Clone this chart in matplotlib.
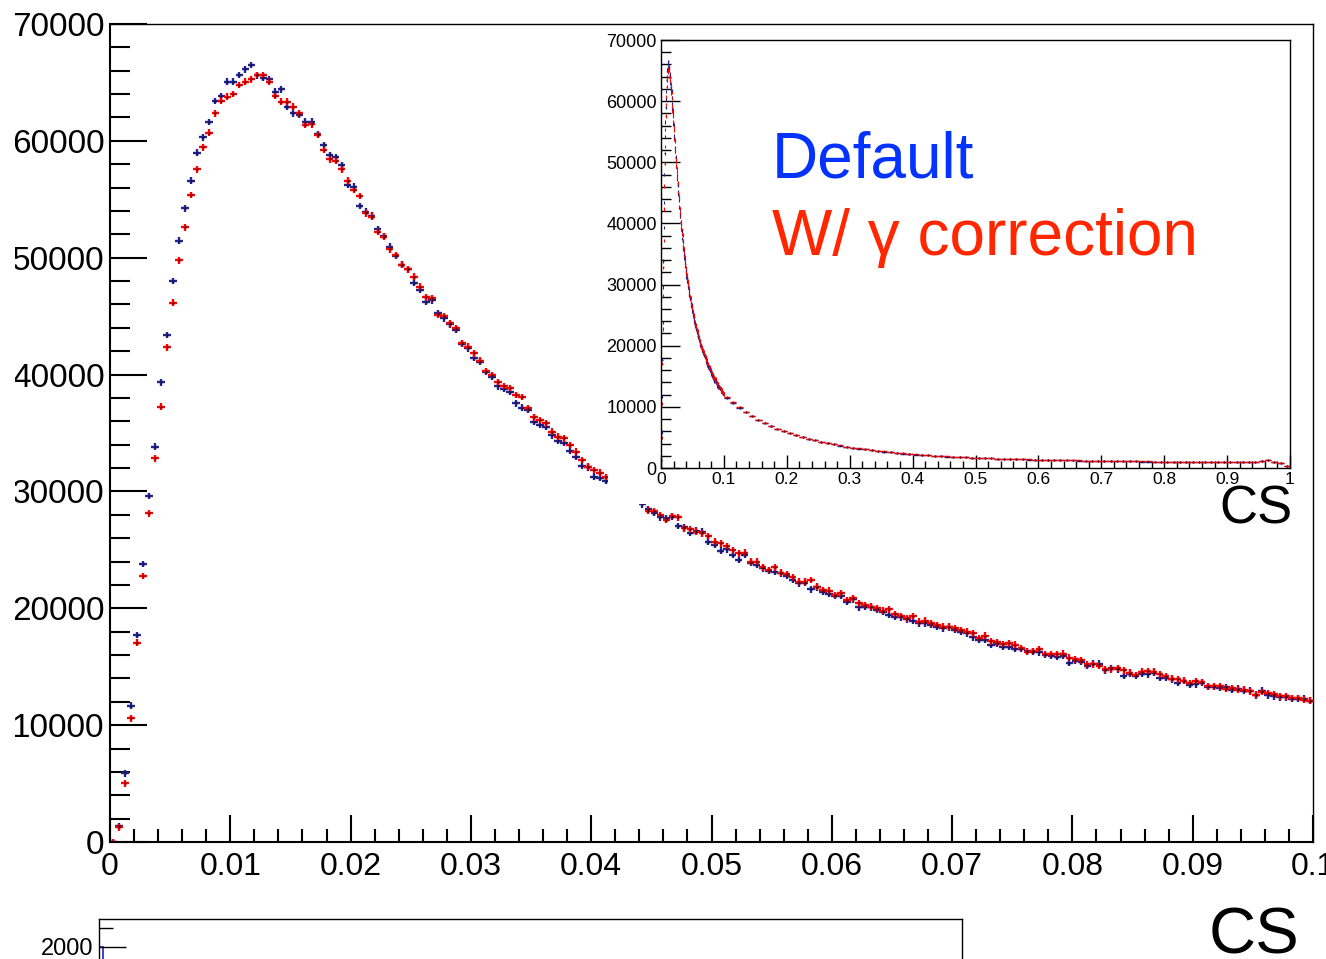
import numpy as np
import matplotlib.pyplot as plt
from matplotlib.patches import Rectangle
from matplotlib.ticker import MultipleLocator, FormatStrFormatter

plt.rcParams['font.family'] = ['Liberation Sans', 'DejaVu Sans']

# CS histogram, 0.0005 wide bins on [0, 0.1]
bin_width = 0.0005
default_counts = [
    0, 1350, 5880, 11660, 17710, 23790, 29610, 33830, 39340, 43390,
    48010, 51460, 54230, 56590, 58990, 60300, 61610, 63410, 63840, 65060,
    65060, 65630, 66120, 66490, 65600, 65400, 65300, 64210, 64410, 62930,
    62360, 62210, 61640, 61640, 60600, 59640, 58790, 58590, 57930, 56220,
    56080, 54420, 53940, 53600, 52430, 51850, 50940, 50150, 49400, 49010,
    47860, 47240, 46240, 46350, 45250, 44820, 44300, 43850, 42600, 42250,
    41420, 41110, 40220, 39820, 39000, 38750, 38550, 37540, 37160, 37000,
    35970, 35700, 35500, 34800, 34300, 34150, 33500, 32950, 32200, 32050,
    31260, 31150, 30900, 30600, 30300, 29950, 29600, 29250, 28900, 28470,
    28180, 27780, 27700, 27840, 27040, 26930, 26470, 26640, 26560, 25700,
    25410, 24930, 25040, 24560, 24130, 24560, 23900, 23700, 23420, 23220,
    23130, 22990, 22760, 22420, 22130, 22190, 21620, 21790, 21420, 21220,
    21050, 21050, 20560, 20760, 20080, 20140, 20080, 19850, 19710, 19420,
    19280, 19220, 19050, 18940, 18710, 18710, 18570, 18420, 18280, 18370,
    18150, 17990, 17850, 17520, 17280, 17280, 16880, 16940, 16710, 16710,
    16500, 16500, 16360, 16300, 16220, 16020, 15930, 15840, 15930, 15350,
    15500, 15440, 15060, 15270, 15270, 14690, 14860, 14770, 14200, 14400,
    14200, 14400, 14340, 14490, 14050, 14050, 13910, 13620, 13770, 13420,
    13480, 13620, 13250, 13250, 13190, 13250, 13040, 13130, 12960, 12960,
    12550, 12960, 12550, 12470, 12380, 12380, 12270, 12270, 12270, 12090,
]
corrected_counts = [
    0, 1250, 5020, 10580, 17060, 22760, 28130, 32830, 37250, 42330,
    46150, 49780, 52600, 55370, 57570, 59450, 60700, 62360, 63440, 63780,
    64010, 64780, 65060, 65270, 65630, 65630, 65060, 63840, 63350, 63350,
    62930, 62360, 61360, 61400, 60500, 59220, 58420, 58300, 57560, 56590,
    55790, 55280, 53800, 53510, 52230, 51800, 50710, 50230, 49400, 49010,
    48380, 47520, 46600, 46530, 45100, 45000, 44390, 43960, 42680, 42400,
    41810, 41200, 40300, 39950, 39360, 39020, 38850, 38250, 38100, 37110,
    36340, 36110, 35830, 35110, 34680, 34540, 33970, 33400, 32690, 32120,
    31830, 31600, 31250, 30900, 30550, 30200, 29850, 29500, 29100, 28350,
    28325, 27980, 27550, 27900, 27780, 26840, 26760, 26560, 26410, 26190,
    25700, 25560, 25330, 24990, 24700, 24760, 23990, 23990, 23500, 23280,
    23500, 23050, 22930, 22650, 22280, 22280, 22420, 21850, 21560, 21510,
    21130, 21280, 20710, 20850, 20420, 20280, 20140, 19990, 19790, 19910,
    19510, 19340, 19140, 19340, 18850, 18940, 18710, 18570, 18420, 18420,
    18280, 18130, 18000, 17860, 17460, 17660, 17170, 17080, 16940, 16990,
    16880, 16590, 16300, 16360, 16500, 16070, 16070, 16070, 16130, 15780,
    15640, 15550, 15210, 15210, 15060, 14770, 14770, 14860, 14690, 14490,
    14290, 14570, 14630, 14570, 14340, 14200, 13990, 13910, 13820, 13620,
    13770, 13710, 13330, 13330, 13330, 13130, 13190, 13040, 13040, 12900,
    12610, 12840, 12760, 12670, 12470, 12470, 12320, 12320, 12180, 12090,
]
# per-bin uncertainty on the counts
count_error = 280

# tail of the same distribution on [0.1, 1], 0.01 wide bins
tail_width = 0.01
default_tail = [
    11500, 10650, 9850, 9100, 8450, 7850, 7350, 6850, 6400, 6000,
    5650, 5330, 5030, 4760, 4500, 4270, 4050, 3850, 3660, 3480,
    3320, 3170, 3030, 2900, 2780, 2670, 2560, 2460, 2370, 2280,
    2200, 2130, 2060, 2000, 1930, 1880, 1820, 1770, 1730, 1680,
    1640, 1600, 1570, 1530, 1500, 1470, 1440, 1410, 1380, 1360,
    1330, 1310, 1290, 1270, 1250, 1230, 1210, 1200, 1180, 1160,
    1150, 1130, 1120, 1100, 1090, 1080, 1060, 1050, 1040, 1030,
    1020, 1010, 1000, 990, 980, 975, 965, 960, 950, 945,
    940, 935, 930, 940, 980, 1150, 1300, 1000, 820, 280,
]
corrected_tail = [
    11650, 10780, 9950, 9200, 8540, 7930, 7420, 6920, 6460, 6060,
    5700, 5380, 5080, 4800, 4540, 4300, 4080, 3880, 3690, 3510,
    3350, 3200, 3060, 2930, 2810, 2700, 2590, 2490, 2400, 2310,
    2230, 2150, 2080, 2020, 1950, 1900, 1840, 1790, 1750, 1700,
    1660, 1620, 1590, 1550, 1520, 1490, 1460, 1430, 1400, 1380,
    1350, 1330, 1310, 1290, 1270, 1250, 1230, 1215, 1195, 1175,
    1165, 1145, 1135, 1115, 1105, 1095, 1075, 1065, 1055, 1045,
    1035, 1025, 1015, 1005, 995, 990, 980, 975, 965, 960,
    955, 950, 945, 955, 990, 1120, 1230, 1010, 830, 290,
]

# next panel (only its top edge shows)
lower_edges = [0.0, 0.005, 0.01]
lower_counts = [2000, 150]

blue = '#23238f'
red = '#ff0000'
W, H = 1326, 959


def draw_hist(ax, centers, counts, half_width, err, color, center, lw, ms):
    ax.errorbar(centers, counts, xerr=half_width, yerr=err,
                fmt='s', color=color, ecolor=color, elinewidth=lw,
                markersize=ms, markerfacecolor=center,
                markeredgewidth=0, capsize=0)


def root_axes(ax, lw=1.5):
    for side in ('left', 'bottom', 'top', 'right'):
        ax.spines[side].set_linewidth(lw)
    ax.tick_params(which='both', direction='in', top=False, right=False)
    ax.xaxis.set_major_formatter(FormatStrFormatter('%g'))
    ax.yaxis.set_major_formatter(FormatStrFormatter('%g'))


fig = plt.figure(figsize=(W / 100, H / 100), dpi=100)

# main panel
ax = fig.add_axes([110 / W, 1 - 842 / H, 1203 / W, 818 / H])
centers = (np.arange(len(default_counts)) + 0.5) * bin_width
draw_hist(ax, centers, default_counts, bin_width / 2 * 1.25, count_error,
          blue, '#101040', 1.7, 1.4)
draw_hist(ax, centers, corrected_counts, bin_width / 2 * 1.25, count_error,
          red, '#400000', 1.7, 1.4)
ax.set_xlim(0, 0.1)
ax.set_ylim(0, 70000)
root_axes(ax)
ax.spines['top'].set_linewidth(1.0)
ax.spines['right'].set_linewidth(1.0)
ax.xaxis.set_major_locator(MultipleLocator(0.01))
ax.xaxis.set_minor_locator(MultipleLocator(0.002))
ax.yaxis.set_major_locator(MultipleLocator(10000))
ax.yaxis.set_minor_locator(MultipleLocator(2000))
ax.tick_params(axis='y', which='major', length=26.5, width=1.5, labelsize=24, pad=4)
ax.tick_params(axis='y', which='minor', length=14.5, width=1.5)
ax.tick_params(axis='x', which='major', length=19.5, width=1.5, labelsize=23, pad=7)
ax.tick_params(axis='x', which='minor', length=9.5, width=1.5)

# white backing of the inset
fig.patches.append(Rectangle((608 / W, 1 - 504 / H), 703 / W, 478 / H,
                             transform=fig.transFigure, facecolor='white',
                             edgecolor='none', zorder=0.5))
# the page margin trims the left of the y labels
fig.patches.append(Rectangle((0, 0), 15 / W, 1, transform=fig.transFigure,
                             facecolor='white', edgecolor='none', zorder=5))

# inset: full CS range
axi = fig.add_axes([661 / W, 1 - 468 / H, 629 / W, 428 / H], zorder=1)
tail_centers = 0.1 + (np.arange(len(default_tail)) + 0.5) * tail_width
draw_hist(axi, centers, default_counts, bin_width / 2, count_error,
          blue, '#101040', 0.8, 0.7)
draw_hist(axi, tail_centers, default_tail, tail_width / 2, count_error / 2,
          blue, '#101040', 1.0, 0.9)
draw_hist(axi, centers, corrected_counts, bin_width / 2, count_error,
          red, '#400000', 0.8, 0.7)
draw_hist(axi, tail_centers, corrected_tail, tail_width / 2, count_error / 2,
          red, '#400000', 1.0, 0.9)
axi.set_xlim(0, 1)
axi.set_ylim(0, 70000)
root_axes(axi, lw=1.0)
axi.xaxis.set_major_locator(MultipleLocator(0.1))
axi.xaxis.set_minor_locator(MultipleLocator(0.02))
axi.yaxis.set_major_locator(MultipleLocator(10000))
axi.yaxis.set_minor_locator(MultipleLocator(2000))
axi.tick_params(axis='y', which='major', length=14, width=1.0, labelsize=13, pad=3)
axi.tick_params(axis='y', which='minor', length=7.5, width=1.0)
axi.tick_params(axis='x', which='major', length=9.5, width=1.0, labelsize=12.5, pad=3)
axi.tick_params(axis='x', which='minor', length=5, width=1.0)

fig.text(772 / W, 1 - 177 / H, 'Default', color='#0433ff', fontsize=46,
         va='baseline', ha='left')
fig.text(772 / W, 1 - 255 / H, 'W/ γ correction', color='#ff2600', fontsize=46,
         va='baseline', ha='left')
fig.text(1292 / W, 1 - 524 / H, 'CS', fontsize=38, va='baseline', ha='right', zorder=2)

# lower panel, cut by the figure edge
axl = fig.add_axes([99 / W, 1 - 1315 / H, 863 / W, 396 / H])
axl.stairs(lower_counts, lower_edges, color='#2020c0', linewidth=1.2)
axl.set_xlim(0, 1)
axl.set_ylim(0, 2150)
root_axes(axl, lw=1.0)
axl.yaxis.set_major_locator(MultipleLocator(1000))
axl.yaxis.set_minor_locator(MultipleLocator(100))
axl.tick_params(axis='y', which='major', length=19.5, width=1.0, labelsize=17, pad=4)
axl.tick_params(axis='y', which='minor', length=10, width=1.0)
axl.tick_params(axis='x', which='both', bottom=False, labelbottom=False)

fig.text(1299 / W, 1 - 954 / H, 'CS', fontsize=47, va='baseline', ha='right')

fig.savefig('out.png', dpi=100)
